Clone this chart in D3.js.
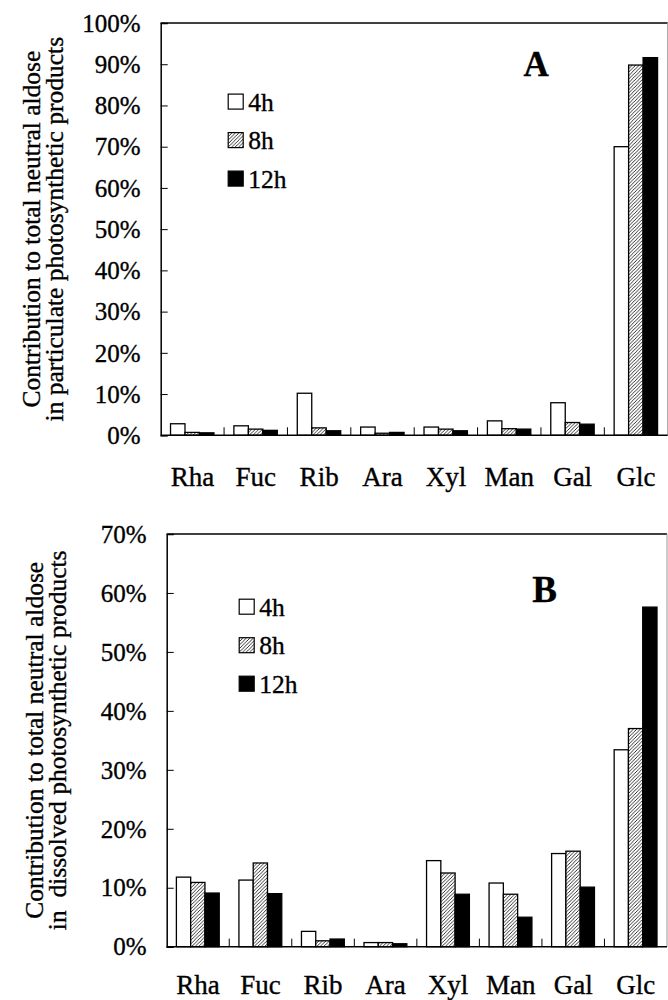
<!DOCTYPE html>
<html>
<head>
<meta charset="utf-8">
<script src="https://cdn.jsdelivr.net/npm/d3@7"></script>
<style>
  body { margin: 0; background: #fff; }
  svg text, svg tspan { font-family: "Liberation Serif", "Times New Roman", serif; fill: #000; }
</style>
</head>
<body>
<div id="chart"></div>
<script>
const W = 668;
const H = 1000;
const FONT = '"Liberation Serif", "Times New Roman", serif';

// data
const categories = ['Rha', 'Fuc', 'Rib', 'Ara', 'Xyl', 'Man', 'Gal', 'Glc'];
const seriesNames = ['4h', '8h', '12h'];

// panel A: particulate products (%)
const partic4h  = [2.8, 2.3, 10.2, 2.0, 2.0, 3.5, 7.9, 70.0];
const partic8h  = [0.7, 1.5, 1.8, 0.5, 1.5, 1.6, 3.1, 89.8];
const partic12h = [0.6, 1.2, 1.1, 0.7, 1.1, 1.5, 2.7, 91.6];
const particTicks = [0, 10, 20, 30, 40, 50, 60, 70, 80, 90, 100];

// panel B: dissolved products (%)
const dissol4h  = [11.8, 11.3, 2.6, 0.7, 14.6, 10.8, 15.8, 33.4];
const dissol8h  = [10.9, 14.2, 1.0, 0.7, 12.5, 8.9, 16.2, 37.0];
const dissol12h = [9.1, 9.0, 1.3, 0.5, 8.9, 5.0, 10.1, 57.6];
const dissolTicks = [0, 10, 20, 30, 40, 50, 60, 70];

const svg = d3.select('#chart').append('svg')
  .attr('width', W).attr('height', H)
  .attr('font-family', FONT);

// hatch for 8h
const defs = svg.append('defs');
defs.append('pattern')
  .attr('id', 'hatch')
  .attr('patternUnits', 'userSpaceOnUse')
  .attr('width', 3.5).attr('height', 3.5)
  .call(p => {
    p.append('rect').attr('width', 3.5).attr('height', 3.5).attr('fill', '#fff');
    p.append('path').attr('d', 'M-1,1 l2,-2 M0,3.5 l3.5,-3.5 M2.5,4.5 l2,-2')
      .attr('stroke', '#000').attr('stroke-width', 0.8);
  });

const fills = { '4h': '#fff', '8h': 'url(#hatch)', '12h': '#000' };

// scanned print looks a bit heavier than plain text
function ink(sel) {
  return sel.style('font-family', FONT).attr('stroke', '#000').attr('stroke-width', 0.35);
}

function drawPanel(cfg) {
  const g = svg.append('g').attr('transform', 'translate(' + cfg.left + ',' + cfg.top + ')');
  const w = cfg.width, h = cfg.height;

  const x0 = d3.scaleBand().domain(categories).range([0, w]);
  const bw = x0.bandwidth();
  const x1 = d3.scaleBand().domain(seriesNames).range([bw * 0.155, bw * 0.84]);
  const y = d3.scaleLinear().domain([0, d3.max(cfg.ticks)]).range([h, 0]);

  const rows = categories.map((c, i) => ({
    cat: c,
    vals: seriesNames.map((s, j) => ({ key: s, value: cfg.values[j][i] }))
  }));

  // frame: top black, right grey
  g.append('line').attr('x1', 0).attr('x2', w).attr('y1', 0).attr('y2', 0)
    .attr('stroke', '#000').attr('stroke-width', 1.5);
  g.append('line').attr('x1', w).attr('x2', w).attr('y1', 0).attr('y2', h)
    .attr('stroke', '#999').attr('stroke-width', 1);

  // bars
  g.selectAll('.grp').data(rows).enter().append('g')
    .attr('transform', d => 'translate(' + x0(d.cat) + ',0)')
    .selectAll('rect').data(d => d.vals).enter().append('rect')
    .attr('x', d => x1(d.key))
    .attr('y', d => y(d.value))
    .attr('width', x1.bandwidth())
    .attr('height', d => h - y(d.value))
    .attr('fill', d => fills[d.key])
    .attr('stroke', '#000')
    .attr('stroke-width', 1.3);

  // y axis, ticks inside
  const yAxis = d3.axisRight(y).tickValues(cfg.ticks).tickSize(7).tickFormat('');
  const ya = g.append('g').call(yAxis);
  ya.select('.domain').attr('stroke', '#000').attr('stroke-width', 1.5);
  ya.selectAll('.tick line').attr('stroke', '#000');
  g.selectAll('.ylab').data(cfg.ticks).enter().append('text')
    .attr('x', -20).attr('y', d => y(d))
    .attr('dy', '0.35em')
    .attr('text-anchor', 'end')
    .style('font-size', '25px')
    .call(ink)
    .text(d => d + '%');

  // x axis: baseline, ticks between categories pointing up
  g.append('line').attr('x1', 0).attr('x2', w).attr('y1', h).attr('y2', h)
    .attr('stroke', '#000').attr('stroke-width', 1.5);
  g.selectAll('.xtick').data(categories.slice(1)).enter().append('line')
    .attr('x1', d => x0(d)).attr('x2', d => x0(d))
    .attr('y1', h).attr('y2', h - 8)
    .attr('stroke', '#000');
  g.selectAll('.xlab').data(categories).enter().append('text')
    .attr('x', d => x0(d) + bw / 2)
    .attr('y', h + cfg.xlabOffset)
    .attr('text-anchor', 'middle')
    .style('font-size', '27px')
    .call(ink)
    .text(d => d);

  // y title, two lines
  const t = g.append('text')
    .attr('transform', 'translate(' + cfg.titleX + ',' + (h / 2) + ') rotate(-90)')
    .attr('text-anchor', 'middle')
    .style('font-size', '25.5px')
    .style('white-space', 'pre')
    .call(ink);
  t.append('tspan').attr('x', 0).attr('dy', 0).text(cfg.title[0]);
  t.append('tspan').attr('x', 0).attr('dy', 23).text(cfg.title[1]);

  // panel letter
  g.append('text')
    .attr('x', cfg.letterX).attr('y', cfg.letterY)
    .attr('text-anchor', 'middle')
    .style('font-size', cfg.letterSize + 'px').style('font-weight', 'bold')
    .call(ink)
    .text(cfg.letter);

  // legend
  const lg = g.append('g').attr('transform', 'translate(' + cfg.legendX + ',' + cfg.legendY + ')');
  seriesNames.forEach((s, i) => {
    lg.append('rect')
      .attr('x', 0).attr('y', i * 38.5 - 7.5)
      .attr('width', 15).attr('height', 15)
      .attr('fill', fills[s]).attr('stroke', '#000').attr('stroke-width', 1.2);
    lg.append('text')
      .attr('x', 20).attr('y', i * 38.5)
      .attr('dy', '0.35em')
      .style('font-size', '25.5px')
      .call(ink)
      .text(s);
  });
}

drawPanel({
  left: 160.7, top: 23, width: 507, height: 412.3,
  values: [partic4h, partic8h, partic12h],
  ticks: particTicks,
  xlabOffset: 51,
  titleX: -120.5,
  title: ['Contribution to total neutral aldose', 'in particulate photosynthetic products'],
  letter: 'A', letterX: 375.5, letterY: 53, letterSize: 35,
  legendX: 67.5, legendY: 78.6
});

drawPanel({
  left: 166.7, top: 534, width: 500.3, height: 412.7,
  values: [dissol4h, dissol8h, dissol12h],
  ticks: dissolTicks,
  xlabOffset: 47,
  titleX: -124,
  title: ['Contribution to total neutral aldose', 'in  dissolved photosynthetic products'],
  letter: 'B', letterX: 378, letterY: 68, letterSize: 37,
  legendX: 72.5, legendY: 72.7
});
</script>
</body>
</html>
